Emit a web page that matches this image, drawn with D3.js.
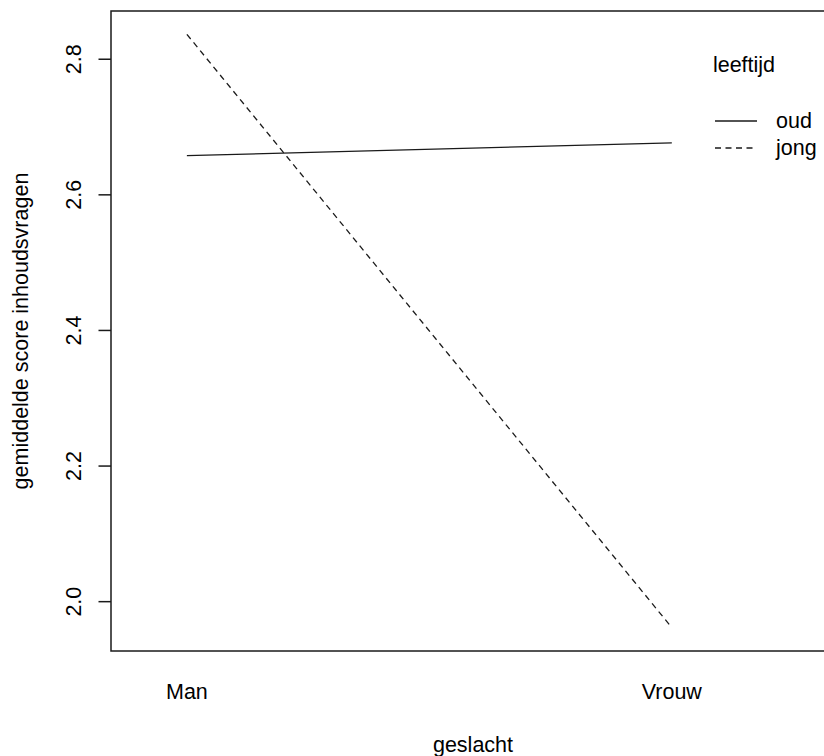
<!DOCTYPE html>
<html>
<head>
<meta charset="utf-8">
<script src="https://cdn.jsdelivr.net/npm/d3@7"></script>
<style>
  html, body { margin: 0; padding: 0; background: #fff; }
  svg { display: block; }
  text { font-family: "Liberation Sans", Arial, sans-serif; fill: #000; }
</style>
</head>
<body>
<svg id="chart" width="824" height="756"></svg>
<script>
// ---- data ----
const categories = ["Man", "Vrouw"];          // geslacht
const groups = ["oud", "jong"];               // leeftijd
const oudValues = [2.657, 2.676];
const jongValues = [2.836, 1.961];
const yTicks = [2.0, 2.2, 2.4, 2.6, 2.8];
const xTitle = "geslacht";
const yTitle = "gemiddelde score inhoudsvragen";
const legendTitle = "leeftijd";

const series = [
  { name: groups[0], values: oudValues, dash: null },
  { name: groups[1], values: jongValues, dash: "6,4.5" }
];

// ---- layout ----
const svg = d3.select("#chart");
const box = { left: 111, right: 835, top: 11, bottom: 651 };
const fontSize = 21.5;
const stroke = "#1a1a1a";

const x = d3.scaleLinear()
  .domain([0.8435, 2.3365])
  .range([box.left, box.right]);
const y = d3.scaleLinear()
  .domain([1.9265, 2.8704])
  .range([box.bottom, box.top]);

// plot box
svg.append("rect")
  .attr("x", box.left).attr("y", box.top)
  .attr("width", box.right - box.left).attr("height", box.bottom - box.top)
  .attr("fill", "none").attr("stroke", stroke).attr("stroke-width", 1.5);

// y axis
const yAxis = d3.axisLeft(y).tickValues(yTicks).tickFormat(d3.format(".1f"))
  .tickSize(12.5).tickPadding(0);
const yg = svg.append("g").attr("transform", `translate(${box.left},0)`).call(yAxis);
yg.select(".domain").remove();
yg.selectAll(".tick line").attr("stroke", stroke).attr("stroke-width", 1.5);
yg.selectAll(".tick text")
  .attr("x", null).attr("dy", null)
  .attr("transform", "translate(-30,0) rotate(-90)")
  .attr("text-anchor", "middle")
  .attr("y", 0)
  .style("font-size", fontSize + "px")
  .style("font-family", "'Liberation Sans', Arial, sans-serif")
  .attr("fill", "#000");

// x labels (no ticks)
svg.append("g").selectAll("text").data(categories).join("text")
  .attr("x", (d, i) => x(i + 1))
  .attr("y", 699)
  .attr("text-anchor", "middle")
  .style("font-size", fontSize + "px")
  .text(d => d);

// lines
const line = d3.line().x((d, i) => x(i + 1)).y(d => y(d));
svg.append("g").selectAll("path").data(series).join("path")
  .attr("d", d => line(d.values))
  .attr("fill", "none")
  .attr("stroke", stroke)
  .attr("stroke-width", 1.3)
  .attr("stroke-dasharray", d => d.dash);

// axis titles
svg.append("text")
  .attr("x", (box.left + box.right) / 2)
  .attr("y", 752)
  .attr("text-anchor", "middle")
  .style("font-size", fontSize + "px")
  .text(xTitle);
svg.append("text")
  .attr("transform", `translate(28,${(box.top + box.bottom) / 2}) rotate(-90)`)
  .attr("text-anchor", "middle")
  .style("font-size", fontSize + "px")
  .text(yTitle);

// legend
svg.append("text")
  .attr("x", 744).attr("y", 72)
  .attr("text-anchor", "middle")
  .style("font-size", fontSize + "px")
  .text(legendTitle);
const leg = svg.append("g").selectAll("g").data(series).join("g")
  .attr("transform", (d, i) => `translate(0,${[121, 148][i]})`);
leg.append("line")
  .attr("x1", 715).attr("x2", 757)
  .attr("stroke", stroke).attr("stroke-width", 1.3)
  .attr("stroke-dasharray", d => d.dash);
leg.append("text")
  .attr("x", 776).attr("y", 7)
  .style("font-size", fontSize + "px")
  .text(d => d.name);
</script>
</body>
</html>
